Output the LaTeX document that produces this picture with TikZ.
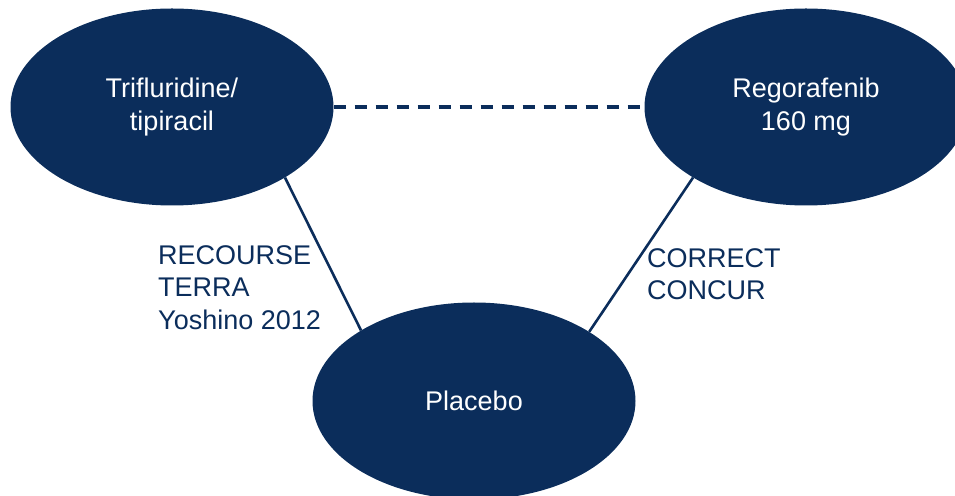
\documentclass[tikz,border=0pt]{standalone}
\usepackage{fontspec}
\setmainfont{Liberation Sans}
\usetikzlibrary{shapes.geometric}
\definecolor{TrialNavy}{HTML}{0B2D5B}

\begin{document}
\begin{tikzpicture}[x=1pt,y=1pt,
          every node/.style={font=\fontsize{27}{32.5}\selectfont},
          arm/.style={ellipse, fill=TrialNavy, text=white, align=center,
            minimum width=323pt, minimum height=197pt, inner sep=0pt},
          trial/.style={anchor=north west, inner sep=0pt, align=left,
            text=TrialNavy},
          link/.style={draw=TrialNavy, line width=2.6pt}]
        \useasboundingbox (0,0) rectangle (955,495);
        \clip (0,0) rectangle (955,495);
        \node[arm] (tri) at (172,388) {Trifluridine/\\tipiracil};
        \node[arm] (reg) at (806,388) {Regorafenib\\160 mg};
        \node[arm] (pla) at (474,94) {Placebo};
        \node[trial] (lbl1) at (158,250) {RECOURSE\\TERRA\\Yoshino 2012};
        \node[trial] (lbl2) at (647,247) {CORRECT\\CONCUR};
        \draw[link] (tri.-32) -- (pla.148);
        \draw[link] (reg.-148) -- (pla.31);
        \draw[link, line width=3.3pt, dash pattern=on 12pt off 9pt]
          (tri.east) -- (reg.west);
      \end{tikzpicture}
\end{document}
